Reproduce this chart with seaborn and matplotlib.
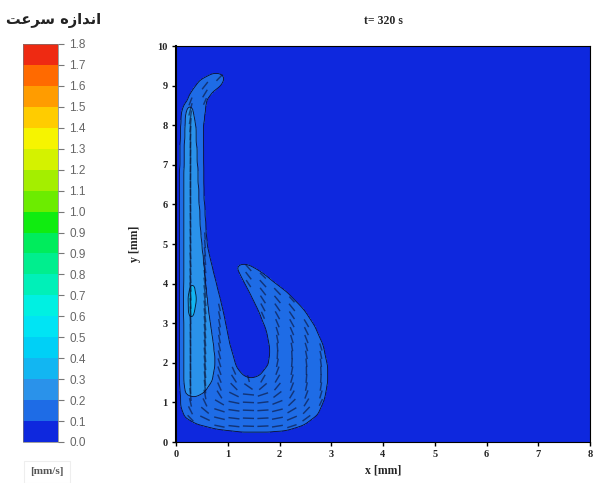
import numpy as np
import matplotlib
matplotlib.use("Agg")
import matplotlib.pyplot as plt
import seaborn as sns
from matplotlib.path import Path
from matplotlib.colors import ListedColormap, BoundaryNorm

# ---------------- data ----------------
title_text = "t= 320 s"
# "اندازه سرعت" written with Arabic presentation forms in visual (left-to-right) order
cbar_title = "\uFE96\uFECB\uFEAE\uFEB3 \uFEE9\uFEAF\uFE8D\uFEAA\uFEE7\uFE8D"
unit_text = "[mm/s]"
x_label = "x [mm]"
y_label = "y [mm]"

levels = np.linspace(0.0, 1.8, 20)
level_labels = ["0.0", "0.1", "0.2", "0.3", "0.4", "0.5", "0.6", "0.7", "0.8", "0.9",
                "0.9", "1.0", "1.1", "1.2", "1.3", "1.4", "1.5", "1.6", "1.7", "1.8"]
band_colors = ["#0e28de", "#1e6ce6", "#2a92ea", "#12b6f2", "#00d0f6", "#00e4f4",
               "#00f0e2", "#00f0b8", "#00ee8e", "#00ec5c", "#10ec10", "#6cec00",
               "#a4ee00", "#d4f200", "#f6f400", "#ffcc00", "#ff9c00", "#ff6a00",
               "#ee2a12"]
x_ticks = [0, 1, 2, 3, 4, 5, 6, 7, 8]
y_ticks = [0, 1, 2, 3, 4, 5, 6, 7, 8, 9, 10]

# outline of the moving fluid (hook), mm
hook_x = [0.46, 0.72, 0.88, 0.94, 0.88, 0.70, 0.59, 0.53, 0.53, 0.59, 0.75, 0.91,
          1.04, 1.17, 1.30, 1.45, 1.62, 1.78, 1.82, 1.75, 1.60, 1.43, 1.25, 1.17,
          1.24, 1.40, 1.62, 1.88, 2.18, 2.46, 2.68, 2.84, 2.92, 2.93, 2.87, 2.74,
          2.50, 2.15, 1.70, 1.20, 0.80, 0.40, 0.17, 0.09, 0.08, 0.09, 0.11, 0.14,
          0.27]
hook_y = [9.14, 9.32, 9.30, 9.20, 9.02, 8.82, 8.63, 7.96, 6.27, 5.00, 4.16, 3.32,
          2.48, 1.88, 1.68, 1.60, 1.68, 1.95, 2.30, 2.80, 3.30, 3.75, 4.20, 4.42,
          4.50, 4.48, 4.32, 4.06, 3.74, 3.36, 2.94, 2.46, 1.98, 1.52, 1.08, 0.70,
          0.44, 0.29, 0.24, 0.26, 0.32, 0.45, 0.62, 0.90, 3.00, 6.00, 7.80, 8.38,
          8.80]
# faster band along the left wall
band_x = [0.22, 0.32, 0.38, 0.42, 0.48, 0.55, 0.63, 0.72, 0.76, 0.70, 0.55, 0.35,
          0.18, 0.12, 0.12, 0.13, 0.15]
band_y = [8.55, 8.45, 8.00, 7.00, 5.40, 4.30, 3.30, 2.50, 2.00, 1.55, 1.25, 1.12,
          1.20, 1.60, 4.00, 7.00, 8.20]
# fastest spot
core_x = [0.25, 0.34, 0.39, 0.37, 0.28, 0.22]
core_y = [3.05, 3.15, 3.55, 3.95, 4.05, 3.60]

speed_background = 0.05
speed_hook = 0.14
speed_band = 0.24
speed_core = 0.33

# ---------------- field ----------------
step = 0.02
xs = np.arange(0, 8 + step / 2, step)
ys = np.arange(0, 10 + step / 2, step)
X, Y = np.meshgrid(xs, ys)
pts = np.column_stack([X.ravel(), Y.ravel()])

F = np.full(X.size, speed_background)
hook_mask = None
for px, py, val in [(hook_x, hook_y, speed_hook), (band_x, band_y, speed_band),
                    (core_x, core_y, speed_core)]:
    inside = Path(np.column_stack([px, py])).contains_points(pts)
    if hook_mask is None:
        hook_mask = inside.reshape(X.shape).astype(float)
    F[inside] = val
F = F.reshape(X.shape)


def blur(A, sig):
    k = np.arange(-int(3 * sig), int(3 * sig) + 1)
    ker = np.exp(-0.5 * (k / sig) ** 2)
    ker /= ker.sum()
    pad = len(k) // 2
    Ap = np.pad(A, pad, mode="edge")
    Ap = np.apply_along_axis(lambda r: np.convolve(r, ker, mode="same"), 1, Ap)
    Ap = np.apply_along_axis(lambda c: np.convolve(c, ker, mode="same"), 0, Ap)
    return Ap[pad:-pad, pad:-pad]


F = blur(F, 3.0)

# flow direction: along the outline of the moving fluid (structure tensor)
M = blur(hook_mask, 4.0)
gy, gx = np.gradient(M)
Jxx, Jyy, Jxy = blur(gx * gx, 18.0), blur(gy * gy, 18.0), blur(gx * gy, 18.0)
theta = 0.5 * np.arctan2(2 * Jxy, Jxx - Jyy) + np.pi / 2
tx, ty = np.cos(theta), np.sin(theta)

# ---------------- plot ----------------
sns.set_theme(style="white")
plt.rcParams['font.family'] = ['Liberation Serif', 'DejaVu Sans']

fig = plt.figure(figsize=(5.97, 4.83), dpi=100)
ax = fig.add_axes([176 / 597, 1 - 442 / 483, 414 / 597, 396 / 483])
cax = fig.add_axes([23 / 597, 1 - 442 / 483, 35 / 597, 398 / 483])

cmap = ListedColormap(band_colors)
norm = BoundaryNorm(levels, cmap.N)
cf = ax.contourf(X, Y, F, levels=levels, cmap=cmap, norm=norm)
ax.contour(X, Y, F, levels=levels, colors="#0a0a30", linewidths=0.6)

# velocity vectors (short dark strokes) inside the moving fluid
sx, sy = 14, 10
Xs, Ys, Fs = X[::sy, ::sx], Y[::sy, ::sx], F[::sy, ::sx]
Us, Vs = tx[::sy, ::sx] * Fs, ty[::sy, ::sx] * Fs
m = Fs > 0.11
ax.quiver(Xs[m], Ys[m], Us[m], Vs[m], angles="xy", scale_units="xy", scale=0.65,
          color="#0a1030", alpha=0.6, width=0.0035, headwidth=1, headlength=0,
          headaxislength=0, pivot="middle")

ax.set_xlim(0, 8)
ax.set_ylim(0, 10)
ax.set_xticks(x_ticks)
ax.set_yticks(y_ticks)
ax.set_xticklabels([str(v) for v in x_ticks], fontweight="bold", fontsize=7.5)
ax.set_yticklabels([str(v) for v in y_ticks], fontweight="bold", fontsize=7.5)
ax.tick_params(direction="out", length=3, width=1, color="black", pad=3,
               bottom=True, left=True)
for s in ax.spines.values():
    s.set_color("black")
    s.set_linewidth(0.8)
ax.spines["left"].set_linewidth(1.5)
ax.set_xlabel(x_label, fontweight="bold", fontsize=8.5, labelpad=4)
ax.set_ylabel(y_label, fontweight="bold", fontsize=8.5, labelpad=12)
ax.set_title(title_text, fontweight="bold", fontsize=8.5, pad=16)

cb = fig.colorbar(cf, cax=cax, ticks=levels)
cb.set_ticklabels(level_labels)
cb.outline.set_linewidth(0.5)
cb.outline.set_edgecolor("#777777")
cax.tick_params(direction="out", length=4, width=0.8, color="#777777", pad=4,
                right=True, labelsize=8.5, labelcolor="#666666")
for lab in cax.get_yticklabels():
    lab.set_family(["Liberation Sans", "DejaVu Sans"])

fig.text(54 / 597, 1 - 21 / 483, cbar_title, ha="center", va="center",
         fontsize=10.5, fontweight="bold", family=["DejaVu Sans"], color="#222222")
fig.text(47 / 597, 1 - 472 / 483, unit_text, ha="center", va="center",
         fontsize=8, fontweight="bold", color="#555555",
         bbox=dict(boxstyle="square,pad=0.6", fc="white", ec="#eeeeee", lw=0.8))

fig.savefig("out.png", dpi=100)
